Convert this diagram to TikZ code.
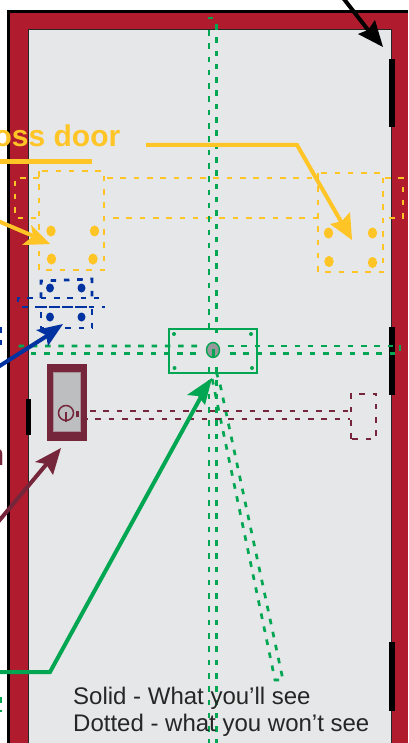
\documentclass[tikz,border=0pt]{standalone}
\usepackage{fontspec}
\setmainfont{Liberation Sans}
\definecolor{doorred}{HTML}{B01C2E}
\definecolor{doorgrey}{HTML}{E6E7E8}
\definecolor{ygold}{HTML}{FFC425}
\definecolor{hblue}{HTML}{0033A1}
\definecolor{hgreen}{HTML}{00A651}
\definecolor{hmaroon}{HTML}{75263B}
\definecolor{lockgrey}{HTML}{BCBEC0}
\tikzset{
  hid/.style={line width=2.7pt,dash pattern=on 5.6pt off 7.7pt},
  yhid/.style={hid,draw=ygold},
  bhid/.style={hid,draw=hblue},
  ghid/.style={hid,draw=hgreen},
  mhid/.style={hid,draw=hmaroon},
  hinge/.style={fill=black,draw=none},
}
\begin{document}
\begin{tikzpicture}[x=1pt,y=-1pt]
\useasboundingbox (0,0) rectangle (408,743);
\clip (0,0) rectangle (408,743);
% frame
\fill[white] (0,0) rectangle (408,743);
\fill[black] (7,10) rectangle (408,743);
\fill[doorred] (10,13) rectangle (408,743);
\filldraw[fill=doorgrey,draw=black!85,line width=1pt] (28.5,29.5) rectangle (391.5,750);
% hinges
\fill[hinge] (389,59) rectangle (395,127);
\fill[hinge] (389,327) rectangle (395,395);
\fill[hinge] (389,642) rectangle (395,711);
\fill[hinge] (26,399) rectangle (30.5,435);
% yellow hidden
\draw[yhid] (39,171) rectangle (104,270);
\draw[yhid] (318,173) rectangle (383,272);
\draw[yhid] (39,178) -- (15,178) -- (15,218) -- (39,218);
\draw[yhid] (107,178) -- (318,178);
\draw[yhid] (113,218) -- (318,218);
\draw[yhid] (385,178) -- (403,178) -- (403,218) -- (387,218);
\foreach \p in {(51,231),(94.5,231),(51.5,259),(93,259),(328.5,233),(372.5,233),(329,261.5),(372.5,262.5)}
  \fill[ygold] \p ellipse (4.7 and 5.5);
% blue hidden
\draw[bhid] (41,298) -- (41,281) -- (92,279) -- (92,298);
\draw[bhid] (41,307) -- (92,307) -- (92,328) -- (41,328) -- cycle;
\draw[bhid] (18,302) -- (18,298) -- (105,298);
\draw[bhid] (22,307) -- (105,307);
\draw[bhid] (1,327) -- (1,345);
\foreach \p in {(50,288),(81.5,288),(50,317),(81.5,317)}
  \fill[hblue] \p ellipse (4 and 4.5);
% green hidden
\draw[ghid] (208,18) -- (213,18);
\draw[ghid] (209,30) -- (209,333);
\draw[ghid] (216.5,24) -- (216.5,333);
\draw[ghid] (209,367) -- (209,743);
\draw[ghid] (216.5,367) -- (216.5,743);
\draw[ghid] (216,372) .. controls (218,377) and (219,380) .. (220,384) -- (283,680) -- (275,680) -- (212,378);
\draw[ghid] (197,346) -- (20,346) -- (19,350);
\draw[ghid] (196,353.5) -- (25,353.5);
\draw[ghid] (228,346) -- (396,346);
\draw[ghid] (230,353.5) -- (396,353.5);
\draw[ghid] (400,345) -- (400,351);
\draw[ghid] (0.5,697) -- (0.5,712);
% green plate
\draw[hgreen,line width=1.8pt] (169,329) rectangle (257,373);
\foreach \p in {(174,334),(251,334),(174.5,368),(252,368)}
  \fill[hgreen] \p circle (2);
\filldraw[fill=lockgrey!80!black,draw=hgreen,line width=1.4pt] (213,350) ellipse (6.5 and 7.5);
\draw[hgreen,line width=3pt] (213,349) -- (213,357);
% maroon hidden
\draw[mhid] (90,411) -- (350,411);
\draw[mhid] (82,419) -- (350,419);
\draw[mhid] (351,439) -- (351,394) -- (376,394) -- (376,439) -- cycle;
% lock
\fill[hmaroon] (47,364) rectangle (87,441);
\filldraw[fill=lockgrey,draw=lockgrey!70!hmaroon,line width=1pt] (53.5,372) rectangle (80,431);
\draw[hmaroon,line width=1.5pt] (66,413) circle (7.5);
\draw[hmaroon,line width=2.6pt] (66,412) -- (66,422);
\draw[hmaroon,line width=2.5pt] (77.5,411) -- (77.5,417);
% arrows
\draw[black,line width=4pt] (340,-6) -- (372,35);
\fill[black] (383,47) -- (358,34) -- (368,30) -- (375,20) -- cycle;
\draw[ygold,line width=5pt] (0,162) -- (92,162);
\draw[ygold,line width=4pt,line join=miter] (146,145) -- (297,145) -- (343,225);
\fill[ygold] (352,240) -- (330,224) -- (342,221) -- (350,212) -- cycle;
\draw[ygold,line width=4pt] (-2,221) -- (38,238);
\fill[ygold] (50,244) -- (22,245) -- (33,236) -- (31,225) -- cycle;
\draw[hblue,line width=4pt] (-2,367) -- (50,334);
\fill[hblue] (63,324) -- (36,330) -- (46,335) -- (48,346) -- cycle;
\draw[hmaroon,line width=4pt] (-2,522) -- (50,460);
\fill[hmaroon] (61,448) -- (35,462) -- (46,464) -- (53,475) -- cycle;
\draw[hgreen,line width=4pt,line join=miter] (-2,672) -- (50,672) -- (202,395);
\fill[hgreen] (212,378) -- (187,395) -- (198,396) -- (205,405) -- cycle;
% texts
\node[anchor=base east,inner sep=0pt,text=ygold,font=\fontsize{30}{30}\selectfont\bfseries] (t1) at (120.5,147) {oss door};
\node[anchor=base east,inner sep=0pt,text=hmaroon,font=\fontsize{30}{30}\selectfont] (t2) at (4.5,465) {n};
\node[anchor=base west,inner sep=0pt,text=black!85,font=\fontsize{24}{24}\selectfont] (t3) at (73,704) {Solid - What you’ll see};
\node[anchor=base west,inner sep=0pt,text=black!85,font=\fontsize{24}{24}\selectfont] (t4) at (73,731) {Dotted - what you won’t see};
\end{tikzpicture}
\end{document}
